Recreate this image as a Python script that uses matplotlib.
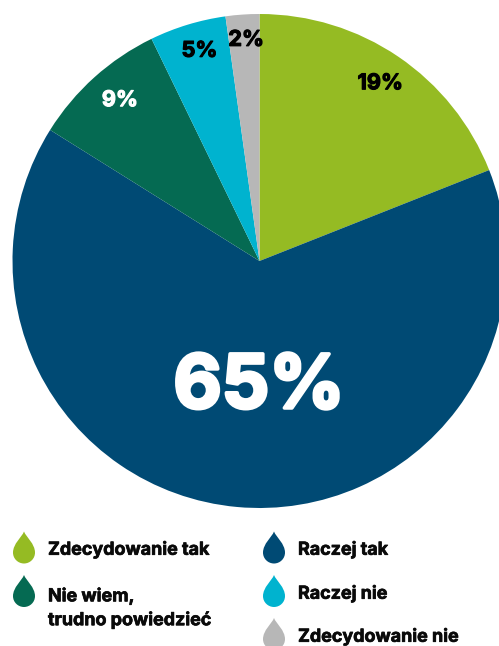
import math
import matplotlib
matplotlib.use("Agg")
import matplotlib.pyplot as plt
import matplotlib.patheffects as pe
from matplotlib.path import Path
from matplotlib.patches import PathPatch

labels = ["Zdecydowanie tak", "Raczej tak", "Nie wiem,\ntrudno powiedzieć", "Raczej nie", "Zdecydowanie nie"]
values = [19.0, 64.9, 8.9, 5.0, 2.2]
pct_labels = ["19%", "65%", "9%", "5%", "2%"]
colors = ["#95BB23", "#004A74", "#056A52", "#00B3CF", "#B7B7B7"]
text_colors = ["#000000", "#FFFFFF", "#FFFFFF", "#000000", "#000000"]
text_sizes = [15.6, 53.5, 15.6, 15.6, 15.6]
text_radius = [0.87, 0.516, 0.862, 0.885, 0.897]
text_shift = [0, 5, -1, -1, -0.5]

W, H = 499, 646
plt.rcParams["font.family"] = ["Inter", "DejaVu Sans"]
fig = plt.figure(figsize=(W/100, H/100), dpi=100)
ax = fig.add_axes([0, 0, 1, 1])

cx, cy, r = 259.5, H - 261, 247
wedges, _ = ax.pie(values, colors=colors, startangle=90, counterclock=False,
                   center=(cx, cy), radius=r, frame=False,
                   wedgeprops={"linewidth": 0})
ax.set_xlim(0, W); ax.set_ylim(0, H); ax.axis("off"); ax.set_aspect("equal")

def heavy(c, w):
    return [pe.withStroke(linewidth=w, foreground=c)]

for wd, s, c, fs, rr, sh in zip(wedges, pct_labels, text_colors, text_sizes, text_radius, text_shift):
    a = math.radians((wd.theta1 + wd.theta2) / 2 + sh)
    ax.text(cx + rr*r*math.cos(a), cy + rr*r*math.sin(a), s, color=c, fontsize=fs,
            fontweight="bold", ha="center", va="center",
            path_effects=heavy(c, 2.6 if fs > 30 else 0.8))

def drop(x, top, c, w=22, h=32):
    y = H - top
    hw = w / 2
    b = y - h          # bottom of the drop
    m = b + 0.34 * h   # widest level
    verts = [(x, y), (x+0.10*w, y-0.18*h), (x+hw, y-0.38*h), (x+hw, m),
             (x+hw, b+0.15*h), (x+0.27*w, b), (x, b),
             (x-0.27*w, b), (x-hw, b+0.15*h), (x-hw, m),
             (x-hw, y-0.38*h), (x-0.10*w, y-0.18*h), (x, y)]
    codes = [Path.MOVETO] + [Path.CURVE4]*12
    ax.add_patch(PathPatch(Path(verts, codes), fc=c, lw=0))

drop_pos = [(24, 531.5), (274, 531.5), (24, 575), (274, 575), (274, 618)]
text_pos = [(48, 550), (298, 550), (48, 608.5), (298, 594), (298, 637)]
for (dx, dy), (tx, ty), l, c in zip(drop_pos, text_pos, labels, colors):
    drop(dx, dy, c)
    ax.text(tx, H - ty, l, fontsize=12.9, fontweight="bold", color="#0A0A0A",
            va="center", ha="left", linespacing=1.42,
            path_effects=heavy("#0A0A0A", 0.5))

fig.savefig("out.png", dpi=100)
